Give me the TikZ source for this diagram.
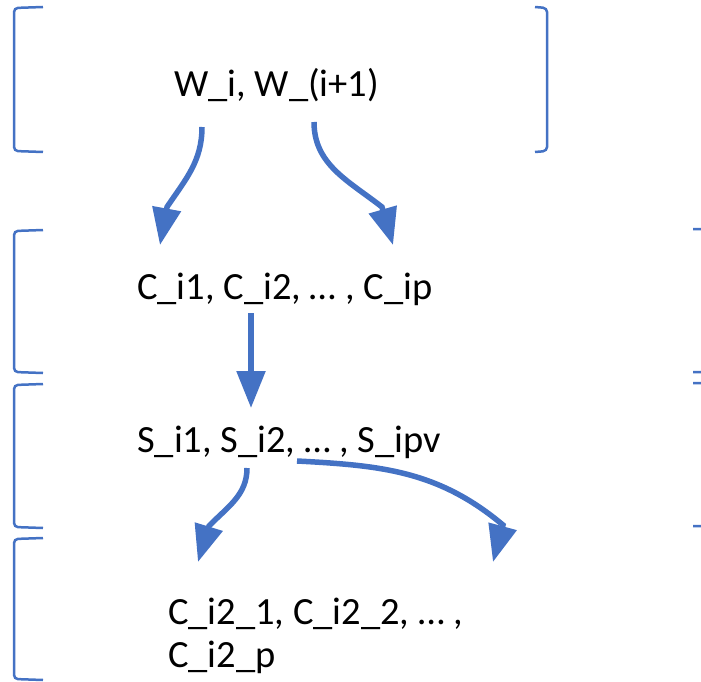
\documentclass[tikz,border=0pt]{standalone}
\usepackage{fontspec}
\setmainfont{Carlito}
\usetikzlibrary{arrows.meta}
\definecolor{accent}{HTML}{4472C4}
\begin{document}
\begin{tikzpicture}[x=1pt,y=-1pt,
  txt/.style={font=\fontsize{38.5}{44}\selectfont, inner sep=0pt, anchor=base west, text=black},
  flow/.style={draw=accent, line width=5.5pt, -{Triangle[length=37pt,width=28pt]}},
  bracket/.style={draw=accent, line width=2.5pt, rounded corners=4pt}]
\useasboundingbox (0,0) rectangle (701,682);
\clip (0,0) rectangle (701,682);

% left brackets
\draw[bracket] (43,7) -- (14,8) -- (14,151) -- (43,152);
\draw[bracket] (43,230) -- (14,231) -- (14,372) -- (43,373);
\draw[bracket] (43,384) -- (14,385) -- (14,527) -- (43,528);
\draw[bracket] (43,538) -- (14,539) -- (14,679) -- (43,680);
% right brackets
\draw[bracket] (535,7) -- (547,8) -- (547,151) -- (535,152);
\draw[bracket] (693,229) -- (707,229) -- (707,372) -- (693,372);
\draw[bracket] (693,383) -- (707,383) -- (707,526) -- (693,526);

% texts
\node[txt] (w) at (174,97) {W\_i, W\_(i+1)};
\node[txt] (c) at (137,299) {C\_i1, C\_i2, … , C\_ip};
\node[txt] (s) at (137,452) {S\_i1, S\_i2, … , S\_ipv};
\node[txt] (d) at (168,624) {C\_i2\_1, C\_i2\_2, … ,};
\node[txt] (e) at (168,667) {C\_i2\_p};

% connector ends (start, head base, tip)
\coordinate (w1) at (202,127);
\coordinate (w2) at (314,122);
\coordinate (c1b) at (167,207);
\coordinate (c1) at (160,245);
\coordinate (c2b) at (382,207);
\coordinate (c2) at (393,245);
\coordinate (c3) at (251,313);
\coordinate (s0) at (251,408);
\coordinate (s1) at (247,468);
\coordinate (s2) at (297,461);
\coordinate (d1b) at (209,526);
\coordinate (d1) at (198,562);
\coordinate (d2b) at (503,525);
\coordinate (d2) at (493,562);

% connectors
\draw[flow] (w1) to[out=-90,in=56] (c1b) -- (c1);
\draw[flow] (w2) to[out=-90,in=142] (c2b) -- (c2);
\draw[flow] (c3) -- (s0);
\draw[flow] (s1) to[out=-90,in=46] (d1b) -- (d1);
\draw[flow] (s2) to[out=-3,in=140] (d2b) -- (d2);
\end{tikzpicture}
\end{document}
